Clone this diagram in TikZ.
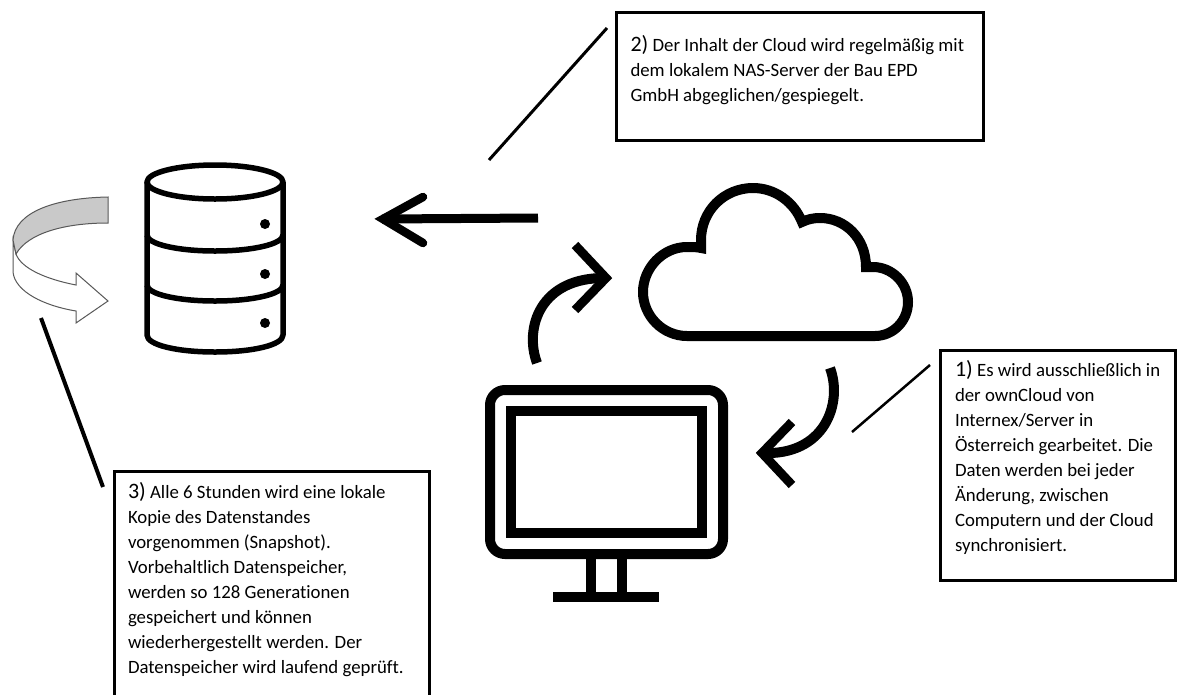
\documentclass[tikz,border=0pt]{standalone}
\usepackage{fontspec}
\setmainfont[Ligatures=NoCommon]{Carlito}
\newcommand{\boxtext}[5]{\parbox[c][#2pt][t]{#1pt}{\vspace*{#4pt}\leftskip=#3pt\relax\rightskip=0pt plus 1fil\relax\parindent=0pt\fontsize{18.8pt}{25pt}\selectfont #5}}
\newcommand{\num}[1]{{\fontsize{22pt}{25pt}\selectfont #1}}
\tikzset{
  textbox/.style={draw=black,line width=3pt,fill=white,inner sep=0pt,outer sep=0pt,anchor=center},
  leader/.style={draw=black,line cap=butt},
  icon/.style={draw=black,line width=10pt,line join=miter,miter limit=10},
  dbline/.style={draw=black,line width=5.5pt,line join=round},
  chev/.style={draw=black,line width=9pt,line join=miter,miter limit=10},
  ribbon/.style={draw=black!65,line width=1pt,line join=miter}
}
\begin{document}
\begin{tikzpicture}[x=1pt,y=-1pt]
\clip (0,0) rectangle (1177,694);
\fill[white] (0,0) rectangle (1177,694);
% text boxes
\node[textbox] (box2) at (800,76.25) {\boxtext{367}{127.5}{14}{22.5}{\num{2)} Der Inhalt der Cloud wird regelmäßig mit\\dem lokalem NAS-Server der Bau EPD\\GmbH abgeglichen/gespiegelt.}};
\node[textbox] (box1) at (1058,465) {\boxtext{235}{230}{14.5}{10}{\num{1)} Es wird ausschließlich in\\der ownCloud von\\Internex/Server in\\Österreich gearbeitet. Die\\Daten werden bei jeder\\Änderung, zwischen\\Computern und der Cloud\\synchronisiert.}};
\node[textbox] (box3) at (271.5,591) {\boxtext{315}{239}{14}{10.5}{\num{3)} Alle 6 Stunden wird eine lokale\\Kopie des Datenstandes\\vorgenommen (Snapshot).\\Vorbehaltlich Datenspeicher,\\werden so 128 Generationen\\gespeichert und können\\wiederhergestellt werden. Der\\Datenspeicher wird laufend geprüft.}};
% leader lines
\coordinate (l2a) at (607,28); \coordinate (l2b) at (489,160);
\coordinate (l1a) at (930,365); \coordinate (l1b) at (852,432);
\coordinate (l3a) at (41,318); \coordinate (l3b) at (103,487);
\draw[leader,line width=3pt] (l2a) -- (l2b);
\draw[leader,line width=2.5pt] (l1a) -- (l1b);
\draw[leader,line width=4pt] (l3a) -- (l3b);
% database
\draw[dbline] (215,182) ellipse [x radius=68,y radius=17];
\draw[dbline] (147,182) -- (147,335) .. controls (147,345) and (177,352) .. (215,352) .. controls (253,352) and (283,345) .. (283,335) -- (283,182);
\draw[dbline] (147,235) .. controls (147,244) and (177,251) .. (215,251) .. controls (253,251) and (283,244) .. (283,235);
\draw[dbline] (147,285) .. controls (147,294) and (177,301) .. (215,301) .. controls (253,301) and (283,294) .. (283,285);
\fill (265,224) circle [radius=5];
\fill (265,274) circle [radius=5];
\fill (265,323) circle [radius=5];
% rotating ribbon arrow
\draw[ribbon,fill=white] (13,240) -- (13,272) .. controls (15,292) and (45,306) .. (76,311) -- (76,323) -- (108,301) -- (76,273) -- (76,285) .. controls (45,279) and (21,268) .. (16,254) -- cycle;
\draw[ribbon,fill=black!21] (108,197) .. controls (55,198) and (15,212) .. (13,240) -- (16,254) .. controls (28,233) and (65,223) .. (108,223) -- cycle;
% cloud
\draw[icon] (687,336) -- (875,336) .. controls (893,336) and (908,321) .. (908,302) .. controls (908,283) and (892,267) .. (873,267) -- (866,267) .. controls (866,238) and (845,218) .. (820,218) .. controls (814,218) and (808,219) .. (802,222) .. controls (794,202) and (775,188) .. (753,188) .. controls (724,188) and (701,211) .. (701,240) -- (701,248) .. controls (697,247) and (692,247) .. (687,247) .. controls (663,247) and (643,268) .. (643,292) .. controls (643,316) and (663,336) .. (687,336) -- cycle;
% monitor
\draw[icon,rounded corners=15pt] (490,390) rectangle (723,554);
\draw[icon] (511,411) rectangle (702,533);
\draw[icon] (591,554) -- (591,597);
\draw[icon] (622,554) -- (622,597);
\draw[icon] (553,597) -- (659,597);
% arrows
\coordinate (a1s) at (538,218); \coordinate (a1t) at (382,219);
\draw[line width=9pt] (a1s) -- (a1t);
\draw[line width=8.5pt,line cap=round,line join=miter,miter limit=10] (423,197) -- (383,219) -- (423,243);
\coordinate (a2s) at (537,363); \coordinate (a2t) at (606,278);
\draw[line width=10pt] (a2s) .. controls (524,328) and (540,277) .. (a2t);
\draw[chev] (575,245) -- (606,278) -- (575,310);
\coordinate (a3s) at (830,368); \coordinate (a3t) at (762,453);
\draw[line width=10pt] (a3s) .. controls (843,403) and (825,456) .. (a3t);
\draw[chev] (792,422) -- (762,453) -- (792,485);
\end{tikzpicture}
\end{document}
